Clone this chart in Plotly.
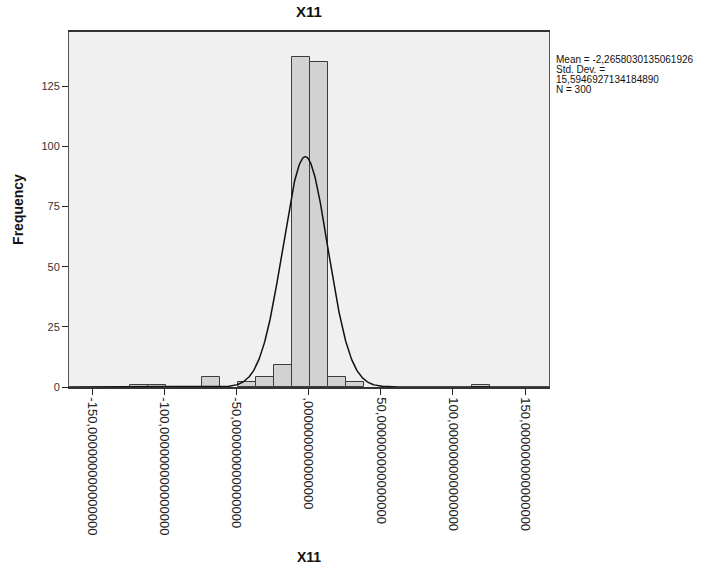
import numpy as np
import plotly.graph_objects as go

# Histogram of X11: bin edges start and width, and counts per bin
bin_start = -123.6
bin_width = 12.47
counts = [1, 1, 0, 0, 4, 0, 2, 4, 9, 137, 135, 4, 2, 0, 0, 0, 0, 0, 0, 1]

# Summary statistics
mean = -2.2658030135061926
std = 15.5946927134184890
n = 300
stat_lines = ["Mean = -2,2658030135061926", "Std. Dev. =", "15,5946927134184890", "N = 300"]

x_tickvals = [-150, -100, -50, 0, 50, 100, 150]
x_ticktext = ["-150,000000000000000", "-100,000000000000000", "-50,000000000000000",
              ",000000000000000", "50,000000000000000", "100,000000000000000",
              "150,000000000000000"]
y_tickvals = [0, 25, 50, 75, 100, 125]

# Only bins with observations are drawn as bars
centers = [bin_start + bin_width * (i + 0.5) for i, c in enumerate(counts) if c > 0]
heights = [c for c in counts if c > 0]

# Normal curve scaled to histogram counts
xs = np.linspace(-166, 166.6, 800)
ys = n * bin_width / (std * np.sqrt(2 * np.pi)) * np.exp(-0.5 * ((xs - mean) / std) ** 2)

fig = go.Figure()
fig.add_trace(go.Bar(
    x=centers, y=heights, width=bin_width,
    marker=dict(color="#d2d2d2", line=dict(color="#3c3c3c", width=1)),
    hoverinfo="x+y",
))
fig.add_trace(go.Scatter(
    x=xs, y=ys, mode="lines",
    line=dict(color="#111111", width=1.5),
    hoverinfo="skip",
))

font = "Liberation Sans, Arial, sans-serif"
fig.update_layout(
    width=705, height=571,
    margin=dict(l=69, r=156, t=32, b=184),
    paper_bgcolor="white",
    plot_bgcolor="#f0f0f0",
    showlegend=False,
    bargap=0,
    font=dict(family=font, color="#222222", size=11),
    title=dict(text="<b>X11</b>", x=(69 + 549) / 2 / 705, xanchor="center",
               y=1 - 12 / 571, yanchor="middle",
               font=dict(family=font, size=15, color="#111111")),
    xaxis=dict(
        range=[-166, 166.6], automargin=False,
        tickmode="array", tickvals=x_tickvals, ticktext=x_ticktext,
        tickangle=90, ticks="outside", ticklen=6, tickcolor="#222222",
        tickfont=dict(family=font, size=13, color="#222222"),
        showgrid=False, zeroline=False,
        showline=True, linecolor="#333333", linewidth=1.5, mirror=True,
    ),
    yaxis=dict(
        range=[0, 147.5], automargin=False,
        tickmode="array", tickvals=y_tickvals,
        ticks="outside", ticklen=6, tickcolor="#222222",
        tickfont=dict(family=font, size=11, color="#333333"),
        showgrid=False, zeroline=False,
        showline=True, linecolor="#555555", linewidth=1, mirror=True,
        title=dict(text="<b>Frequency</b>", font=dict(family=font, size=14, color="#111111"),
                   standoff=14),
    ),
)

# X axis title below the rotated tick labels
fig.add_annotation(
    text="<b>X11</b>", xref="paper", yref="paper", x=0.5, y=0,
    xanchor="center", yanchor="middle", yshift=-170, showarrow=False,
    font=dict(family=font, size=14, color="#111111"),
)

# Statistics box to the right of the plot, tightly spaced lines
for i, line in enumerate(stat_lines):
    fig.add_annotation(
        text=line,
        xref="paper", yref="paper", x=1.0, y=1.0, xanchor="left", yanchor="middle",
        xshift=5, yshift=-27 - 10 * i, align="left", showarrow=False,
        font=dict(family=font, size=10, color="#111111"),
    )

fig.write_html("out.html")
